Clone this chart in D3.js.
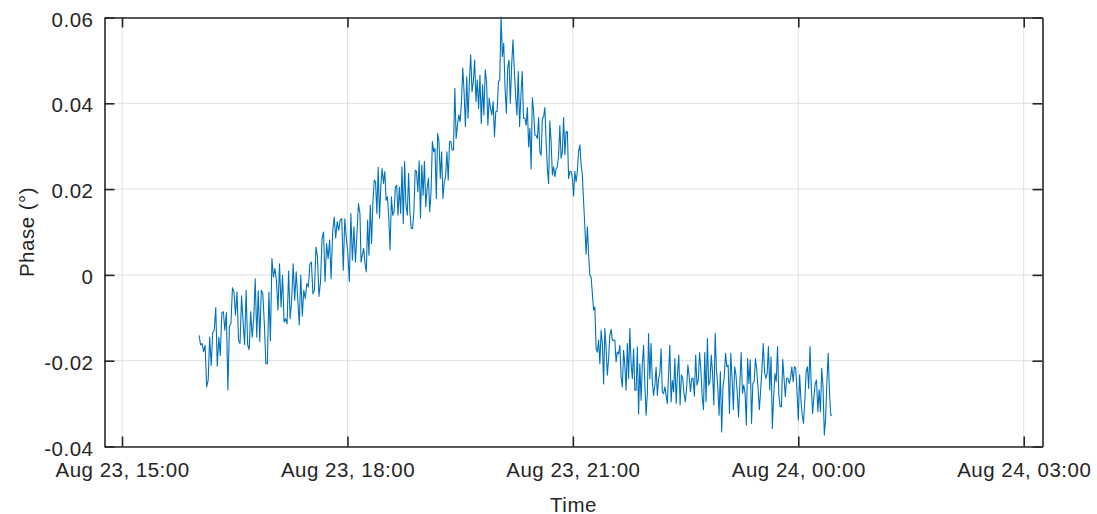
<!DOCTYPE html>
<html><head><meta charset="utf-8">
<script src="https://cdn.jsdelivr.net/npm/d3@7"></script>
<style>
html,body{margin:0;padding:0;background:#fff;}
svg text{font-family:"Liberation Sans",Arial,Helvetica,sans-serif;fill:#262626;}
</style></head><body>
<svg id="chart" width="1097" height="514"></svg>
<script>
// ---- data ----
const xDomain = ["2023-08-23T14:46:00", "2023-08-24T03:15:00"];
const xTickTimes = ["2023-08-23T15:00:00", "2023-08-23T18:00:00", "2023-08-23T21:00:00", "2023-08-24T00:00:00", "2023-08-24T03:00:00"];
const xTickLabels = ["Aug 23, 15:00", "Aug 23, 18:00", "Aug 23, 21:00", "Aug 24, 00:00", "Aug 24, 03:00"];
const yDomain = [-0.04, 0.06];
const yTickValues = [-0.04, -0.02, 0, 0.02, 0.04, 0.06];
const yTickLabels = ["-0.04", "-0.02", "0", "0.02", "0.04", "0.06"];
const xLabel = "Time";
const yLabel = "Phase (°)";

// samples are evenly spaced in time within each segment
const segmentStarts = ["2023-08-23T16:01:30", "2023-08-23T18:10:50", "2023-08-23T20:22:40", "2023-08-23T22:22:30"];
const segmentEnds   = ["2023-08-23T18:10:00", "2023-08-23T20:21:40", "2023-08-23T22:21:25", "2023-08-24T00:27:00"];

const phaseA = [
-0.0141,-0.0163,-0.0160,-0.0179,-0.0164,-0.0261,-0.0246,-0.0145,-0.0211,-0.0135,
-0.0129,-0.0076,-0.0213,-0.0145,-0.0188,-0.0088,-0.0086,-0.0129,-0.0088,-0.0268,
-0.0119,-0.0114,-0.0030,-0.0040,-0.0094,-0.0040,-0.0152,-0.0160,-0.0049,-0.0110,
-0.0162,-0.0036,-0.0163,-0.0174,-0.0086,-0.0145,-0.0102,-0.0009,-0.0145,-0.0037,
-0.0155,-0.0036,-0.0044,-0.0114,-0.0207,-0.0207,-0.0040,-0.0154,0.0038,-0.0005,
0.0015,-0.0016,-0.0082,0.0026,-0.0075,-0.0001,-0.0110,-0.0102,-0.0114,0.0009,
-0.0102,-0.0059,0.0026,-0.0059,0.0007,-0.0057,-0.0116,-0.0001,-0.0096,-0.0036,
-0.0055,-0.0020,-0.0028,0.0026,0.0030,-0.0044,-0.0036,0.0065,0.0042,-0.0050,
-0.0016,0.0085,0.0100,-0.0016,0.0073,0.0038,0.0081,-0.0009,0.0100,0.0135,
0.0086,0.0124,0.0104,0.0128,0.0131,0.0011,0.0131,0.0085,0.0050,-0.0016,
0.0143,0.0034,0.0112,0.0030,0.0096,0.0166,0.0143
];
const phaseB = [
0.0030,0.0046,0.0062,0.0027,0.0007,0.0128,0.0046,0.0163,0.0073,0.0171,
0.0221,0.0217,0.0143,0.0251,0.0132,0.0209,0.0248,0.0213,0.0241,0.0174,
0.0182,0.0135,0.0058,0.0182,0.0139,0.0147,0.0205,0.0209,0.0139,0.0205,
0.0143,0.0252,0.0120,0.0264,0.0163,0.0139,0.0237,0.0147,0.0108,0.0108,
0.0147,0.0244,0.0241,0.0194,0.0266,0.0132,0.0256,0.0186,0.0264,0.0159,
0.0202,0.0225,0.0147,0.0194,0.0311,0.0287,0.0295,0.0178,0.0330,0.0311,
0.0225,0.0287,0.0178,0.0217,0.0229,0.0287,0.0221,0.0311,0.0311,0.0291,
0.0291,0.0435,0.0318,0.0349,0.0373,0.0357,0.0400,0.0482,0.0427,0.0346,
0.0462,0.0365,0.0451,0.0513,0.0427,0.0451,0.0501,0.0404,0.0454,0.0388,
0.0466,0.0353,0.0443,0.0373,0.0478,0.0451,0.0349,0.0412,0.0388,0.0373,
0.0404,0.0322,0.0381,0.0381,0.0451,0.0454,0.0602,0.0509,0.0540,0.0435,
0.0377,0.0482,0.0501,0.0400,0.0489,0.0548,0.0478,0.0419,0.0373,0.0474,
0.0346,0.0419,0.0474,0.0365,0.0365
];
const phaseC = [
0.0349,0.0390,0.0299,0.0342,0.0247,0.0413,0.0381,0.0326,0.0325,0.0318,
0.0367,0.0287,0.0279,0.0365,0.0369,0.0390,0.0311,0.0248,0.0213,0.0359,
0.0311,0.0233,0.0252,0.0229,0.0247,0.0252,0.0279,0.0348,0.0272,0.0287,
0.0367,0.0281,0.0334,0.0334,0.0225,0.0241,0.0241,0.0225,0.0184,0.0241,
0.0217,0.0241,0.0289,0.0303,0.0256,0.0233,0.0170,0.0112,0.0048,0.0112,
0.0048,-0.0001,-0.0005,-0.0043,-0.0082,-0.0075,-0.0172,-0.0180,-0.0152,-0.0207,
-0.0129,-0.0160,-0.0254,-0.0125,-0.0172,-0.0234,-0.0195,-0.0141,-0.0127,-0.0152,
-0.0152,-0.0152,-0.0203,-0.0180,-0.0184,-0.0164,-0.0238,-0.0261,-0.0176,-0.0211,
-0.0269,-0.0160,-0.0242,-0.0125,-0.0207,-0.0242,-0.0172,-0.0269,-0.0269,-0.0168,
-0.0324,-0.0207,-0.0292,-0.0207,-0.0164,-0.0257,-0.0327,-0.0277,-0.0137,-0.0242,
-0.0160,-0.0250,-0.0281,-0.0257,-0.0215,-0.0281,-0.0242,-0.0230,-0.0172,-0.0273,
-0.0277,-0.0261,-0.0281,-0.0300,-0.0230,-0.0164,-0.0296,-0.0246,-0.0273,-0.0195
];
const phaseD = [
-0.0300,-0.0230,-0.0187,-0.0303,-0.0233,-0.0241,-0.0276,-0.0296,-0.0265,-0.0210,
-0.0237,-0.0272,-0.0241,-0.0241,-0.0283,-0.0187,-0.0257,-0.0245,-0.0181,-0.0222,
-0.0283,-0.0314,-0.0181,-0.0296,-0.0148,-0.0257,-0.0249,-0.0187,-0.0230,-0.0303,
-0.0136,-0.0222,-0.0261,-0.0327,-0.0226,-0.0366,-0.0261,-0.0237,-0.0183,-0.0214,
-0.0210,-0.0323,-0.0183,-0.0241,-0.0314,-0.0214,-0.0233,-0.0276,-0.0331,-0.0253,
-0.0181,-0.0276,-0.0257,-0.0276,-0.0350,-0.0195,-0.0253,-0.0198,-0.0346,-0.0253,
-0.0249,-0.0195,-0.0222,-0.0265,-0.0314,-0.0268,-0.0220,-0.0160,-0.0226,-0.0241,
-0.0230,-0.0167,-0.0268,-0.0191,-0.0358,-0.0284,-0.0230,-0.0249,-0.0167,-0.0280,
-0.0307,-0.0307,-0.0197,-0.0241,-0.0284,-0.0241,-0.0241,-0.0253,-0.0241,-0.0214,
-0.0249,-0.0214,-0.0218,-0.0272,-0.0338,-0.0233,-0.0292,-0.0327,-0.0346,-0.0292,
-0.0226,-0.0214,-0.0265,-0.0167,-0.0261,-0.0323,-0.0284,-0.0253,-0.0245,-0.0319,
-0.0268,-0.0319,-0.0218,-0.0261,-0.0373,-0.0335,-0.0249,-0.0183,-0.0276,-0.0327,
-0.0327
];
const segments = [phaseA, phaseB, phaseC, phaseD];

// ---- build records ----
const parse = s => new Date(s);
const records = [];
segments.forEach((vals, si) => {
  const t = d3.scaleLinear().domain([0, vals.length - 1])
    .range([parse(segmentStarts[si]).getTime(), parse(segmentEnds[si]).getTime()]);
  vals.forEach((v, i) => records.push({ time: new Date(t(i)), value: v }));
});

// ---- layout ----
const W = 1097, H = 514;
const plot = { left: 104.5, right: 1042.5, top: 17.5, bottom: 446.5 };
const ink = "#262626";
const fontSize = "20.5px";
const svg = d3.select("#chart");

const x = d3.scaleTime().domain(xDomain.map(parse)).range([plot.left, plot.right]);
const y = d3.scaleLinear().domain(yDomain).range([plot.bottom, plot.top]);

const xTicks = xTickTimes.map(parse);

// grid
const grid = svg.append("g").attr("stroke", "#dfdfdf").attr("stroke-width", 1);
grid.selectAll("line.gx").data(xTicks).join("line")
  .attr("x1", d => x(d)).attr("x2", d => x(d))
  .attr("y1", plot.top).attr("y2", plot.bottom);
grid.selectAll("line.gy").data(yTickValues).join("line")
  .attr("y1", d => y(d)).attr("y2", d => y(d))
  .attr("x1", plot.left).attr("x2", plot.right);

// line
const clipId = "plotclip";
svg.append("clipPath").attr("id", clipId).append("rect")
  .attr("x", plot.left).attr("y", plot.top - 1)
  .attr("width", plot.right - plot.left).attr("height", plot.bottom - plot.top + 1);
svg.append("path")
  .datum(records)
  .attr("clip-path", `url(#${clipId})`)
  .attr("fill", "none")
  .attr("stroke", "#0072BD")
  .attr("stroke-width", 1.1)
  .attr("stroke-linejoin", "round")
  .attr("d", d3.line().x(d => x(d.time)).y(d => y(d.value)));

// axes (ticks pointing inward)
function styleAxis(g) {
  g.select(".domain").attr("stroke", ink).attr("stroke-width", 1.6);
  g.selectAll(".tick line").attr("stroke", ink).attr("stroke-width", 1.6);
  g.selectAll(".tick text").attr("fill", ink)
    .style("font-size", fontSize).style("letter-spacing", "0.5px");
}
const fmtX = (d, i) => xTickLabels[i];
const fmtY = (d, i) => yTickLabels[i];

svg.append("g").attr("transform", `translate(0,${plot.bottom})`)
  .call(d3.axisBottom(x).tickValues(xTicks).tickFormat(fmtX).tickSizeInner(-10).tickSizeOuter(0).tickPadding(20))
  .call(styleAxis)
  .call(g => g.selectAll(".tick text").attr("dy", "0.71em").attr("y", 16));
svg.append("g").attr("transform", `translate(0,${plot.top})`)
  .call(d3.axisTop(x).tickValues(xTicks).tickFormat("").tickSizeInner(-10).tickSizeOuter(0))
  .call(styleAxis);
svg.append("g").attr("transform", `translate(${plot.left},0)`)
  .call(d3.axisLeft(y).tickValues(yTickValues).tickFormat(fmtY).tickSizeInner(-10).tickSizeOuter(0).tickPadding(11))
  .call(styleAxis)
  .call(g => g.selectAll(".tick text").attr("dy", "0.42em"));
svg.append("g").attr("transform", `translate(${plot.right},0)`)
  .call(d3.axisRight(y).tickValues(yTickValues).tickFormat("").tickSizeInner(-10).tickSizeOuter(0))
  .call(styleAxis);

// axis labels
svg.append("text")
  .attr("x", (plot.left + plot.right) / 2).attr("y", 511.5)
  .attr("text-anchor", "middle")
  .style("font-size", fontSize).style("letter-spacing", "0.5px")
  .text(xLabel);
svg.append("text")
  .attr("transform", `translate(33.5,${(plot.top + plot.bottom) / 2}) rotate(-90)`)
  .attr("text-anchor", "middle")
  .style("font-size", fontSize).style("letter-spacing", "0.5px")
  .text(yLabel);
</script>
</body></html>
